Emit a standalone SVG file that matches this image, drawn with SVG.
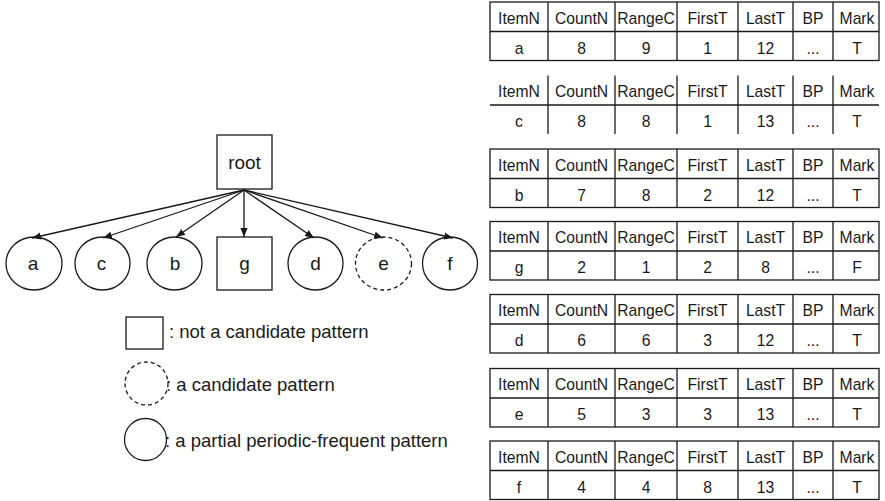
<svg xmlns="http://www.w3.org/2000/svg" xmlns:xlink="http://www.w3.org/1999/xlink" width="885" height="501" viewBox="0 0 885 501">
  <style>
    .ln { fill: none; stroke: #1a1a1a; stroke-width: 1.3; }
    .dash { fill: none; stroke: #1a1a1a; stroke-width: 1.3; stroke-dasharray: 4 3; }
    .lbl { font-family: "Liberation Sans", Arial, sans-serif; font-size: 19px; fill: #1a1a1a; text-anchor: middle; }
    .leg { font-family: "Liberation Sans", Arial, sans-serif; font-size: 18.5px; fill: #1a1a1a; }
    .cell { font-family: "Liberation Sans", Arial, sans-serif; font-size: 15.7px; fill: #1a1a1a; text-anchor: middle; }
    .edge { fill: none; stroke: #1a1a1a; stroke-width: 1.3; marker-end: url(#arr); }
  </style>
  <defs>
    <marker id="arr" viewBox="0 0 10 10" refX="10" refY="5" markerWidth="9" markerHeight="9" markerUnits="userSpaceOnUse" orient="auto">
      <path d="M0,1 L10,5 L0,9 Z" fill="#1a1a1a"/>
    </marker>
    <!-- inner rules of a record table, origin at its top-left corner -->
    <g id="grid" class="ln">
      <line x1="58" y1="0" x2="58" y2="58.5"/>
      <line x1="125" y1="0" x2="125" y2="58.5"/>
      <line x1="187" y1="0" x2="187" y2="58.5"/>
      <line x1="248" y1="0" x2="248" y2="58.5"/>
      <line x1="303" y1="0" x2="303" y2="58.5"/>
      <line x1="343" y1="0" x2="343" y2="58.5"/>
      <line x1="0" y1="29.5" x2="389" y2="29.5"/>
    </g>
    <rect id="frame" class="ln" x="0" y="0" width="389" height="58.5"/>
    <!-- header row text -->
    <g id="head">
      <text class="cell" x="29" y="21.5">ItemN</text>
      <text class="cell" x="91.5" y="21.5">CountN</text>
      <text class="cell" x="156" y="21.5">RangeC</text>
      <text class="cell" x="217.5" y="21.5">FirstT</text>
      <text class="cell" x="275.5" y="21.5">LastT</text>
      <text class="cell" x="323" y="21.5">BP</text>
      <text class="cell" x="367" y="21.5">Mark</text>
    </g>
  </defs>

  <!-- tree connectors -->
  <g id="connectors">
    <line class="edge" x1="244" y1="190" x2="32" y2="238"/>
    <line class="edge" x1="244" y1="190" x2="103" y2="238"/>
    <line class="edge" x1="244" y1="190" x2="176" y2="237"/>
    <line class="edge" x1="244" y1="190" x2="244" y2="237"/>
    <line class="edge" x1="244" y1="190" x2="314" y2="238"/>
    <line class="edge" x1="244" y1="190" x2="383" y2="238"/>
    <line class="edge" x1="244" y1="190" x2="453" y2="238"/>
  </g>

  <!-- tree nodes -->
  <g id="node-root">
    <rect class="ln" x="217" y="135" width="55" height="54"/>
    <text class="lbl" x="244.5" y="169">root</text>
  </g>
  <g id="node-a">
    <ellipse class="ln" cx="34" cy="263.5" rx="28" ry="26.5"/>
    <text class="lbl" x="33" y="270">a</text>
  </g>
  <g id="node-c">
    <ellipse class="ln" cx="102.5" cy="263.5" rx="27.5" ry="26.5"/>
    <text class="lbl" x="101.5" y="270">c</text>
  </g>
  <g id="node-b">
    <ellipse class="ln" cx="174.5" cy="263.5" rx="27.5" ry="26.5"/>
    <text class="lbl" x="175" y="270">b</text>
  </g>
  <g id="node-g">
    <rect class="ln" x="217" y="237" width="55" height="53"/>
    <text class="lbl" x="244.5" y="270">g</text>
  </g>
  <g id="node-d">
    <ellipse class="ln" cx="315.5" cy="263.5" rx="27.5" ry="26.5"/>
    <text class="lbl" x="315.5" y="270">d</text>
  </g>
  <g id="node-e">
    <ellipse class="dash" cx="383.5" cy="263.5" rx="28" ry="26.5"/>
    <text class="lbl" x="383.5" y="270">e</text>
  </g>
  <g id="node-f">
    <ellipse class="ln" cx="450" cy="263.5" rx="27.5" ry="26.5"/>
    <text class="lbl" x="450" y="270">f</text>
  </g>

  <!-- legend -->
  <g id="legend">
    <rect class="ln" x="126" y="317" width="37" height="32"/>
    <text class="leg" x="169" y="338">: not a candidate pattern</text>
    <circle class="dash" cx="146.5" cy="383.5" r="21.5"/>
    <text class="leg" x="166" y="391">: a candidate pattern</text>
    <circle class="ln" cx="145.5" cy="439.5" r="21"/>
    <text class="leg" x="165" y="447">: a partial periodic-frequent pattern</text>
  </g>

  <!-- record tables -->
  <g id="table-a" transform="translate(490,2)">
    <use xlink:href="#frame"/><use xlink:href="#grid"/><use xlink:href="#head"/>
    <text class="cell" x="29" y="51.5">a</text>
    <text class="cell" x="91.5" y="51.5">8</text>
    <text class="cell" x="156" y="51.5">9</text>
    <text class="cell" x="217.5" y="51.5">1</text>
    <text class="cell" x="275.5" y="51.5">12</text>
    <text class="cell" x="323" y="51.5">...</text>
    <text class="cell" x="367" y="51.5">T</text>
  </g>
  <g id="table-c" transform="translate(490,75.5)">
    <use xlink:href="#grid"/><use xlink:href="#head"/>
    <text class="cell" x="29" y="51.5">c</text>
    <text class="cell" x="91.5" y="51.5">8</text>
    <text class="cell" x="156" y="51.5">8</text>
    <text class="cell" x="217.5" y="51.5">1</text>
    <text class="cell" x="275.5" y="51.5">13</text>
    <text class="cell" x="323" y="51.5">...</text>
    <text class="cell" x="367" y="51.5">T</text>
  </g>
  <g id="table-b" transform="translate(490,149)">
    <use xlink:href="#frame"/><use xlink:href="#grid"/><use xlink:href="#head"/>
    <text class="cell" x="29" y="51.5">b</text>
    <text class="cell" x="91.5" y="51.5">7</text>
    <text class="cell" x="156" y="51.5">8</text>
    <text class="cell" x="217.5" y="51.5">2</text>
    <text class="cell" x="275.5" y="51.5">12</text>
    <text class="cell" x="323" y="51.5">...</text>
    <text class="cell" x="367" y="51.5">T</text>
  </g>
  <g id="table-g" transform="translate(490,221.5)">
    <use xlink:href="#frame"/><use xlink:href="#grid"/><use xlink:href="#head"/>
    <text class="cell" x="29" y="51.5">g</text>
    <text class="cell" x="91.5" y="51.5">2</text>
    <text class="cell" x="156" y="51.5">1</text>
    <text class="cell" x="217.5" y="51.5">2</text>
    <text class="cell" x="275.5" y="51.5">8</text>
    <text class="cell" x="323" y="51.5">...</text>
    <text class="cell" x="367" y="51.5">F</text>
  </g>
  <g id="table-d" transform="translate(490,294.5)">
    <use xlink:href="#frame"/><use xlink:href="#grid"/><use xlink:href="#head"/>
    <text class="cell" x="29" y="51.5">d</text>
    <text class="cell" x="91.5" y="51.5">6</text>
    <text class="cell" x="156" y="51.5">6</text>
    <text class="cell" x="217.5" y="51.5">3</text>
    <text class="cell" x="275.5" y="51.5">12</text>
    <text class="cell" x="323" y="51.5">...</text>
    <text class="cell" x="367" y="51.5">T</text>
  </g>
  <g id="table-e" transform="translate(490,368.5)">
    <use xlink:href="#frame"/><use xlink:href="#grid"/><use xlink:href="#head"/>
    <text class="cell" x="29" y="51.5">e</text>
    <text class="cell" x="91.5" y="51.5">5</text>
    <text class="cell" x="156" y="51.5">3</text>
    <text class="cell" x="217.5" y="51.5">3</text>
    <text class="cell" x="275.5" y="51.5">13</text>
    <text class="cell" x="323" y="51.5">...</text>
    <text class="cell" x="367" y="51.5">T</text>
  </g>
  <g id="table-f" transform="translate(490,441)">
    <use xlink:href="#frame"/><use xlink:href="#grid"/><use xlink:href="#head"/>
    <text class="cell" x="29" y="51.5">f</text>
    <text class="cell" x="91.5" y="51.5">4</text>
    <text class="cell" x="156" y="51.5">4</text>
    <text class="cell" x="217.5" y="51.5">8</text>
    <text class="cell" x="275.5" y="51.5">13</text>
    <text class="cell" x="323" y="51.5">...</text>
    <text class="cell" x="367" y="51.5">T</text>
  </g>
</svg>
